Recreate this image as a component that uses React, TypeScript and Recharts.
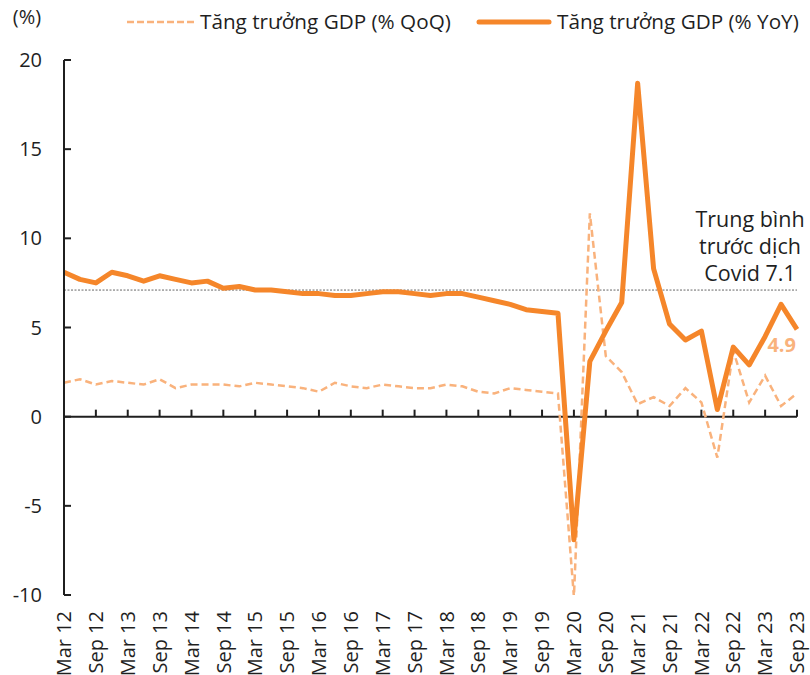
import {
  LabelList,
  Legend,
  Line,
  LineChart,
  ReferenceLine,
  XAxis,
  YAxis,
} from "recharts";

const QUARTERS = [
  "Mar 12", "Jun 12", "Sep 12", "Dec 12",
  "Mar 13", "Jun 13", "Sep 13", "Dec 13",
  "Mar 14", "Jun 14", "Sep 14", "Dec 14",
  "Mar 15", "Jun 15", "Sep 15", "Dec 15",
  "Mar 16", "Jun 16", "Sep 16", "Dec 16",
  "Mar 17", "Jun 17", "Sep 17", "Dec 17",
  "Mar 18", "Jun 18", "Sep 18", "Dec 18",
  "Mar 19", "Jun 19", "Sep 19", "Dec 19",
  "Mar 20", "Jun 20", "Sep 20", "Dec 20",
  "Mar 21", "Jun 21", "Sep 21", "Dec 21",
  "Mar 22", "Jun 22", "Sep 22", "Dec 22",
  "Mar 23", "Jun 23", "Sep 23",
];

const GDP_QOQ = [
  1.9, 2.1, 1.8, 2.0,
  1.9, 1.8, 2.1, 1.6,
  1.8, 1.8, 1.8, 1.7,
  1.9, 1.8, 1.7, 1.6,
  1.4, 1.9, 1.7, 1.6,
  1.8, 1.7, 1.6, 1.6,
  1.8, 1.7, 1.4, 1.3,
  1.6, 1.5, 1.4, 1.3,
  -10.1, 11.4, 3.4, 2.5,
  0.7, 1.1, 0.6, 1.6,
  0.8, -2.3, 3.7, 0.8,
  2.3, 0.6, 1.3,
];

const GDP_YOY = [
  8.1, 7.7, 7.5, 8.1,
  7.9, 7.6, 7.9, 7.7,
  7.5, 7.6, 7.2, 7.3,
  7.1, 7.1, 7.0, 6.9,
  6.9, 6.8, 6.8, 6.9,
  7.0, 7.0, 6.9, 6.8,
  6.9, 6.9, 6.7, 6.5,
  6.3, 6.0, 5.9, 5.8,
  -6.9, 3.1, 4.8, 6.4,
  18.7, 8.3, 5.2, 4.3,
  4.8, 0.4, 3.9, 2.9,
  4.5, 6.3, 4.9,
];

const PRE_COVID_AVG = 7.1;
const Y_TICKS = [-10, -5, 0, 5, 10, 15, 20];

const FONT = "'Open Sans', 'Noto Sans', sans-serif";
const FS = 20;
const INK = "#1f1f1f";
const YOY_COLOR = "#F5862A";
const QOQ_COLOR = "#F9B27C";

const data = QUARTERS.map((q, i) => ({ q, qoq: GDP_QOQ[i], yoy: GDP_YOY[i] }));
// categories that carry a label also get a small tick on the zero line
const labelled = QUARTERS.filter((_, i) => i % 2 === 0);
// 7px expressed in value units (30 units over a 535px plot)
const ZERO_TICK = (7 * 30) / 535;

function QuarterTick({ x, y, payload }: any) {
  return (
    <text
      x={x}
      y={y + 16}
      transform={`rotate(-90, ${x}, ${y + 16})`}
      textAnchor="end"
      dy="0.36em"
      fontFamily={FONT}
      fontSize={FS}
      fill={INK}
    >
      {payload.value}
    </text>
  );
}

function ChartLegend() {
  return (
    <svg width={810} height={45} style={{ display: "block" }}>
      <line x1={127} x2={195} y1={22} y2={22} stroke={QOQ_COLOR} strokeWidth={2.5} strokeDasharray="7 3" />
      <text x={200} y={22} dy="0.35em" fontFamily={FONT} fontSize={20.7} fill={INK}>
        Tăng trưởng GDP (% QoQ)
      </text>
      <line x1={479} x2={549} y1={22} y2={22} stroke={YOY_COLOR} strokeWidth={5} strokeLinecap="round" />
      <text x={557} y={22} dy="0.35em" fontFamily={FONT} fontSize={20.7} fill={INK}>
        Tăng trưởng GDP (% YoY)
      </text>
    </svg>
  );
}

function AvgLabel({ viewBox }: any) {
  const cx = viewBox.x + viewBox.width - 47;
  const y = viewBox.y;
  const lines = ["Trung bình", "trước dịch", `Covid ${PRE_COVID_AVG}`];
  return (
    <g>
      {lines.map((t, i) => (
        <text
          key={t}
          x={cx}
          y={y - 72 + i * 27}
          textAnchor="middle"
          dominantBaseline="central"
          fontFamily={FONT}
          fontSize={21.5}
          fill={INK}
        >
          {t}
        </text>
      ))}
    </g>
  );
}

function LastValue({ x, y, value, index }: any) {
  if (index !== GDP_YOY.length - 1) return null;
  return (
    <text
      x={x - 1}
      y={y + 15}
      textAnchor="end"
      dominantBaseline="central"
      fontFamily={FONT}
      fontSize={FS}
      fontWeight={700}
      fill={QOQ_COLOR}
    >
      {value}
    </text>
  );
}

function UnitLabel({ viewBox }: any) {
  return (
    <text
      x={viewBox.x + 27}
      y={viewBox.y - 44}
      textAnchor="middle"
      dominantBaseline="central"
      fontFamily={FONT}
      fontSize={FS}
      fill={INK}
    >
      (%)
    </text>
  );
}

export default function App() {
  return (
    <div style={{ position: "absolute", left: 0, top: 0, width: 810, height: 675, background: "#fff" }}>
      {/* legend is 45px tall, so 15 + 45 puts the plot top at y=60 */}
      <LineChart width={810} height={675} data={data} margin={{ top: 15, right: 13, bottom: 0, left: 0 }}>
        <Legend
          verticalAlign="top"
          content={() => <ChartLegend />}
          wrapperStyle={{ top: 0, left: 0, width: 810, height: 45 }}
        />
        <XAxis
          dataKey="q"
          interval={1}
          axisLine={false}
          tickLine={false}
          tickSize={0}
          tickMargin={0}
          height={80}
          tick={<QuarterTick />}
          padding={{ left: 0, right: 0 }}
        />
        <YAxis
          domain={[-10, 20]}
          ticks={Y_TICKS}
          width={64}
          axisLine={{ stroke: INK, strokeWidth: 2 }}
          tickLine={{ stroke: INK, strokeWidth: 2 }}
          tickSize={-7}
          tickMargin={29}
          tick={{ fontFamily: FONT, fontSize: FS, fill: INK }}
          label={<UnitLabel />}
          allowDataOverflow
        />
        <ReferenceLine y={0} stroke={INK} strokeWidth={2} />
        {labelled.map((q) => (
          <ReferenceLine
            key={`zt-${q}`}
            segment={[{ x: q, y: 0 }, { x: q, y: ZERO_TICK }]}
            stroke={INK}
            strokeWidth={2}
          />
        ))}
        <ReferenceLine
          y={PRE_COVID_AVG}
          stroke="#666"
          strokeWidth={1}
          strokeDasharray="2 1.5"
          label={<AvgLabel />}
        />
        <Line
          type="linear"
          dataKey="qoq"
          stroke={QOQ_COLOR}
          strokeWidth={2.5}
          strokeDasharray="7 4"
          dot={false}
          isAnimationActive={false}
        />
        <Line
          type="linear"
          dataKey="yoy"
          stroke={YOY_COLOR}
          strokeWidth={5}
          strokeLinejoin="round"
          dot={false}
          isAnimationActive={false}
        >
          <LabelList dataKey="yoy" content={<LastValue />} />
        </Line>
      </LineChart>
    </div>
  );
}
